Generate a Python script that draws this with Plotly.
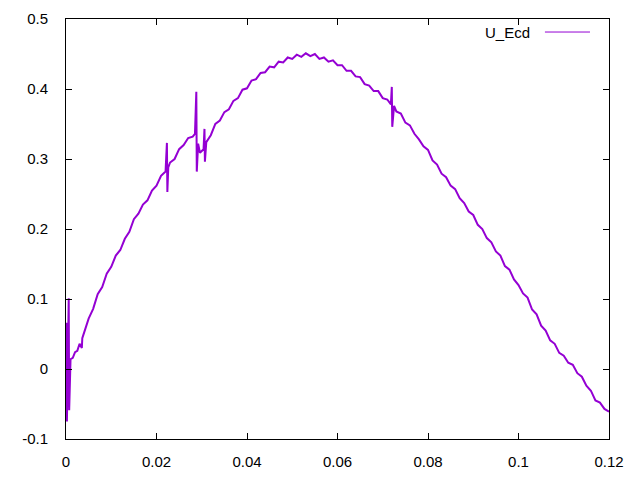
import plotly.graph_objects as go

# Data (x, U_Ecd)
x_vals = [0.0000, 0.0001, 0.0002, 0.0004, 0.0006, 0.0007, 0.0009, 0.0010, 0.0015, 0.0020,
          0.0025, 0.0030, 0.0035, 0.0036, 0.0040, 0.0050, 0.0060, 0.0070, 0.0080, 0.0090,
          0.0100, 0.0110, 0.0120, 0.0130, 0.0140, 0.0150, 0.0160, 0.0170, 0.0180, 0.0190,
          0.0200, 0.0210, 0.0220, 0.0223, 0.0224, 0.0226, 0.0230, 0.0240, 0.0250, 0.0260,
          0.0270, 0.0280, 0.0285, 0.0288, 0.0289, 0.0292, 0.0296, 0.0300, 0.0304, 0.0306,
          0.0307, 0.0310, 0.0320, 0.0330, 0.0340, 0.0350, 0.0360, 0.0370, 0.0380, 0.0390,
          0.0400, 0.0410, 0.0420, 0.0430, 0.0440, 0.0450, 0.0460, 0.0470, 0.0480, 0.0490,
          0.0500, 0.0510, 0.0520, 0.0530, 0.0540, 0.0550, 0.0560, 0.0570, 0.0580, 0.0590,
          0.0600, 0.0610, 0.0620, 0.0630, 0.0640, 0.0650, 0.0660, 0.0670, 0.0680, 0.0690,
          0.0700, 0.0710, 0.0718, 0.0720, 0.0721, 0.0725, 0.0730, 0.0740, 0.0750, 0.0760,
          0.0770, 0.0780, 0.0790, 0.0800, 0.0810, 0.0820, 0.0830, 0.0840, 0.0850, 0.0860,
          0.0870, 0.0880, 0.0890, 0.0900, 0.0910, 0.0920, 0.0930, 0.0940, 0.0950, 0.0960,
          0.0970, 0.0980, 0.0990, 0.1000, 0.1010, 0.1020, 0.1030, 0.1040, 0.1050, 0.1060,
          0.1070, 0.1080, 0.1090, 0.1100, 0.1110, 0.1120, 0.1130, 0.1140, 0.1150, 0.1160,
          0.1170, 0.1180, 0.1190, 0.1200]
u_ecd = [0.000, 0.066, -0.075, 0.010, 0.101, -0.059, 0.008, 0.014, 0.016, 0.024,
         0.026, 0.036, 0.030, 0.044, 0.052, 0.072, 0.086, 0.107, 0.117, 0.136,
         0.146, 0.162, 0.170, 0.186, 0.196, 0.214, 0.222, 0.235, 0.241, 0.255,
         0.262, 0.276, 0.282, 0.323, 0.253, 0.288, 0.295, 0.300, 0.314, 0.320,
         0.330, 0.332, 0.336, 0.396, 0.282, 0.322, 0.309, 0.312, 0.314, 0.343,
         0.296, 0.324, 0.334, 0.350, 0.355, 0.367, 0.371, 0.383, 0.387, 0.399,
         0.401, 0.412, 0.414, 0.423, 0.424, 0.432, 0.431, 0.439, 0.438, 0.445,
         0.443, 0.449, 0.446, 0.451, 0.447, 0.450, 0.443, 0.445, 0.439, 0.441,
         0.434, 0.434, 0.426, 0.426, 0.418, 0.417, 0.407, 0.405, 0.397, 0.397,
         0.387, 0.385, 0.378, 0.403, 0.346, 0.376, 0.368, 0.365, 0.352, 0.348,
         0.336, 0.328, 0.318, 0.313, 0.298, 0.292, 0.279, 0.274, 0.262, 0.257,
         0.244, 0.237, 0.225, 0.220, 0.206, 0.200, 0.187, 0.181, 0.168, 0.162,
         0.147, 0.142, 0.128, 0.120, 0.108, 0.102, 0.085, 0.078, 0.062, 0.055,
         0.041, 0.036, 0.023, 0.019, 0.009, 0.006, -0.006, -0.011, -0.024, -0.031,
         -0.045, -0.048, -0.057, -0.061]

x_ticks = [0, 0.02, 0.04, 0.06, 0.08, 0.1, 0.12]
x_tick_text = ["0", "0.02", "0.04", "0.06", "0.08", "0.1", "0.12"]
y_ticks = [-0.1, 0, 0.1, 0.2, 0.3, 0.4, 0.5]
y_tick_text = ["-0.1", "0", "0.1", "0.2", "0.3", "0.4", "0.5"]

line_color = "#9400D3"

fig = go.Figure()
fig.add_trace(go.Scatter(x=x_vals, y=u_ecd, mode="lines", name="U_Ecd",
                         line=dict(color=line_color, width=2), showlegend=False))

axis_common = dict(showgrid=False, zeroline=False, showline=True, linecolor="black",
                   linewidth=1, mirror="ticks", ticks="inside", ticklen=6,
                   automargin=False, tickcolor="black",
                   tickfont=dict(family="Liberation Sans", size=15, color="black"))

fig.update_xaxes(range=[0, 0.12], tickvals=x_ticks, ticktext=x_tick_text,
                 ticklabelstandoff=9, **axis_common)
fig.update_yaxes(range=[-0.1, 0.5], tickvals=y_ticks, ticktext=y_tick_text,
                 ticklabelstandoff=14, **axis_common)

# gnuplot-style key: text then line sample
fig.add_annotation(xref="paper", yref="paper", x=0.858, y=0.969, text="U_Ecd",
                   showarrow=False, xanchor="right", yanchor="middle",
                   font=dict(family="Liberation Sans", size=15, color="black"))
fig.add_shape(type="line", xref="paper", yref="paper", x0=0.882, x1=0.965,
              y0=0.969, y1=0.969, line=dict(color=line_color, width=1))

# page body has an 8px margin: size the figure to fit and offset margins
fig.update_layout(width=624, height=464, paper_bgcolor="white", plot_bgcolor="white",
                  margin=dict(l=58, r=23, t=11, b=33), showlegend=False)

fig.write_html("out.html")
